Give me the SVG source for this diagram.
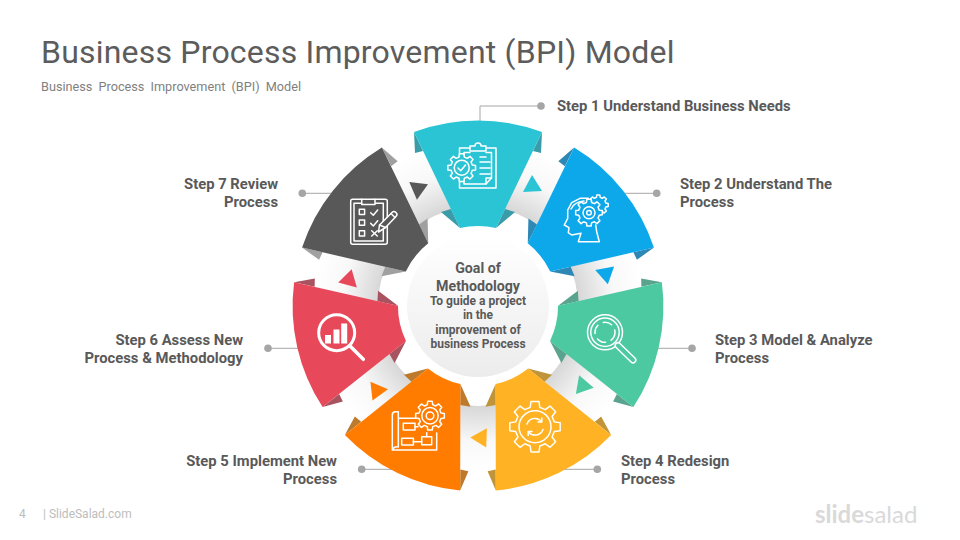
<svg xmlns="http://www.w3.org/2000/svg" width="960" height="540" viewBox="0 0 960 540">
<style>
text{font-family:Roboto,"Liberation Sans",sans-serif;fill:#595959}
.lab{font-size:14.8px;font-weight:700}
.r{text-anchor:end}
.c{text-anchor:middle}
.lead{fill:none;stroke:#a6a6a6;stroke-width:1}
.dot{fill:#a6a6a6}
.ic{fill:none;stroke:#fff;stroke-width:1.5;stroke-linejoin:round;stroke-linecap:round}
.wf{fill:#fff;stroke:none}
</style>
<defs>
<radialGradient id="bandGrad" gradientUnits="userSpaceOnUse" cx="0" cy="0" r="165">
<stop offset="0.6" stop-color="#d6d6d6"/><stop offset="0.82" stop-color="#f8f8f8"/><stop offset="1" stop-color="#fff"/>
</radialGradient>
<linearGradient id="hub" x1="0" y1="0" x2="0" y2="1"><stop offset="0" stop-color="#fff"/><stop offset="1" stop-color="#ececec"/></linearGradient>
<path id="band" fill="url(#bandGrad)" d="M34.3,-161.4A165,165 0 0 1 106,-126.4L64.3,-76.6A100,100 0 0 0 20.8,-97.8Z"/>
<path id="tri" d="M45,-114L64,-115L54,-131Z"/>
<path id="folds" d="M64,-174L63,-153L55,-155ZM-64,-174L-63,-153L-55,-155ZM18,-78L37,-94L27,-97ZM-18,-78L-37,-94L-27,-97Z"/>
<path id="front" d="M-64,-174A185,185 0 0 1 64,-174L18,-78A80,80 0 0 0 -18,-78Z"/>
<path id="gear" vector-effect="non-scaling-stroke" d="M-1.56,-9.88L1.56,-9.88L1.89,-7.57L4.02,-6.69L5.88,-8.09L8.09,-5.88L6.69,-4.02L7.57,-1.89L9.88,-1.56L9.88,1.56L7.57,1.89L6.69,4.02L8.09,5.88L5.88,8.09L4.02,6.69L1.89,7.57L1.56,9.88L-1.56,9.88L-1.89,7.57L-4.02,6.69L-5.88,8.09L-8.09,5.88L-6.69,4.02L-7.57,1.89L-9.88,1.56L-9.88,-1.56L-7.57,-1.89L-6.69,-4.02L-8.09,-5.88L-5.88,-8.09L-4.02,-6.69L-1.89,-7.57Z"/>
</defs>
<rect width="960" height="540" fill="#fff"/>
<text x="41" y="63" font-size="32" letter-spacing="0.2" style="fill:#5c5c5c">Business Process Improvement (BPI) Model</text>
<text x="41" y="91" font-size="12.7" style="fill:#7f7f7f" word-spacing="3">Business Process Improvement (BPI) Model</text>
<text x="19" y="518" font-size="12" style="fill:#bdbdbd">4</text>
<text x="43" y="518" font-size="12" style="fill:#bdbdbd">| SlideSalad.com</text>
<text x="815" y="523" font-size="24" style="fill:#d9d9d9;font-family:Lato,sans-serif"><tspan font-weight="700">slide</tspan>salad</text>

<g id="connectors">
<g transform="translate(478 306)">
<g><use href="#band"/><use href="#tri" fill="#2bc4d4"/></g>
<g transform="rotate(51.4286)"><use href="#band"/><use href="#tri" fill="#0da8ea"/></g>
<g transform="rotate(102.857)"><use href="#band"/><use href="#tri" fill="#4cc9a0"/></g>
<g transform="rotate(154.286)"><use href="#band"/><use href="#tri" fill="#ffb223"/></g>
<g transform="rotate(205.714)"><use href="#band"/><use href="#tri" fill="#ff7c00"/></g>
<g transform="rotate(257.143)"><use href="#band"/><use href="#tri" fill="#e8495a"/></g>
<g transform="rotate(308.571)"><use href="#band"/><use href="#tri" fill="#585858"/></g>
</g>
<path class="lead" d="M541,106H480V123"/><circle class="dot" cx="541" cy="106" r="3.8"/>
<path class="lead" d="M656.7,193.3H622"/><circle class="dot" cx="656.7" cy="193.3" r="3.8"/>
<path class="lead" d="M692,348.3H655"/><circle class="dot" cx="692" cy="348.3" r="3.8"/>
<path class="lead" d="M597.3,469.3H560"/><circle class="dot" cx="597.3" cy="469.3" r="3.8"/>
<path class="lead" d="M361.7,469.3H395"/><circle class="dot" cx="361.7" cy="469.3" r="3.8"/>
<path class="lead" d="M268,348.3H302"/><circle class="dot" cx="268" cy="348.3" r="3.8"/>
<path class="lead" d="M302.3,193.3H336"/><circle class="dot" cx="302.3" cy="193.3" r="3.8"/>
</g>

<g id="hub-node">
<circle cx="478" cy="306" r="71" fill="url(#hub)"/>
<text class="c" x="478" y="272.700" font-size="14.200" font-weight="700">Goal of</text>
<text class="c" x="478" y="290.500" font-size="14.200" font-weight="700">Methodology</text>
<text class="c" x="478" y="304.500" font-size="12" font-weight="700">To guide a project</text>
<text class="c" x="478" y="318.500" font-size="12" font-weight="700">in the</text>
<text class="c" x="478" y="334" font-size="12" font-weight="700">improvement of</text>
<text class="c" x="478" y="347.500" font-size="12" font-weight="700">business Process</text>
</g>

<g id="step1">
<g transform="translate(478 306)"><use href="#folds" fill="#3a9ca8"/><use href="#front" fill="#2bc4d4"/></g>
<g class="ic">
<path d="M470,148H459.500V188H496V148H486"/>
<path d="M470,152.500H464V184H486L491.500,178V152.500H486"/>
<path d="M486,178H491.500M486,178V184"/>
<path d="M470,151V146H475A3,3 0 0 1 481,146H486V151Z"/>
<path d="M480,157H486M480,162H490M480,168H490M480,174H490"/>
<use href="#gear" transform="translate(461.700 167.700) scale(1.4)" fill="#2bc4d4"/>
<circle cx="461.700" cy="167.700" r="7.500"/>
<path d="M458,168L460.800,170.800L465.500,165"/>
</g>
<text class="lab" x="557" y="111">Step 1 Understand Business Needs</text>
</g>

<g id="step2">
<g transform="translate(478 306) rotate(51.4286)"><use href="#folds" fill="#2e88b5"/><use href="#front" fill="#0da8ea"/></g>
<g class="ic">
<path d="M599.300,241.700L596.700,231.700L595.700,225M578.300,241.700H599.300M578.300,241.700L581,233.300L571.700,235L568.300,232.700L569,227.700L564.300,225L567.700,218.300V210L571.700,202.700L580,198.300H588.300"/>
<path d="M571,209Q574,202 584,201"/>
<use href="#gear" transform="translate(598.300 205) scale(1)"/>
<use href="#gear" transform="translate(589 212.700) scale(1.350)" fill="#0da8ea"/>
<circle cx="589" cy="212.700" r="6"/><circle cx="589" cy="212.700" r="2.300"/>
</g>
<text class="lab" x="680" y="189">Step 2 Understand The</text>
<text class="lab" x="680" y="207">Process</text>
</g>

<g id="step3">
<g transform="translate(478 306) rotate(102.857)"><use href="#folds" fill="#5aa38f"/><use href="#front" fill="#4cc9a0"/></g>
<g class="ic">
<circle cx="605" cy="332.300" r="17.500"/><circle cx="605" cy="332.300" r="14.200"/>
<circle cx="605" cy="332.300" r="10" stroke-dasharray="9 6"/>
<path d="M618,345.500L633,360" stroke-width="7"/>
<path d="M618,345.500L633,360" stroke="#4cc9a0" stroke-width="4"/>
</g>
<text class="lab" x="715" y="345">Step 3 Model &amp; Analyze</text>
<text class="lab" x="715" y="363">Process</text>
</g>

<g id="step4">
<g transform="translate(478 306) rotate(154.286)"><use href="#folds" fill="#c0953a"/><use href="#front" fill="#ffb223"/></g>
<g class="ic">
<use href="#gear" transform="translate(535 426.700) scale(2.550)"/>
<circle cx="535" cy="426.700" r="16"/>
<path d="M527,424A8.500,8.500 0 0 1 541.500,421.500M543,429.500A8.500,8.500 0 0 1 528.500,432"/>
<path d="M541.800,418V422H538M528.200,435.500V431.500H532"/>
</g>
<text class="lab" x="621" y="466">Step 4 Redesign</text>
<text class="lab" x="621" y="484">Process</text>
</g>

<g id="step5">
<g transform="translate(478 306) rotate(205.714)"><use href="#folds" fill="#bd7a2c"/><use href="#front" fill="#ff7c00"/></g>
<g class="ic">
<path d="M392.300,450V415Q392.300,411.700 395.300,411.700H398.300V447Q394,446 392.300,450ZM398.300,418.300H419M392.300,450H436.700V433"/>
<rect x="403.300" y="423.300" width="11.700" height="6.700"/><path d="M415,426.700H418"/>
<rect x="401.700" y="438.300" width="11.700" height="6.700"/><rect x="421.700" y="436.700" width="10" height="8"/>
<path d="M413.400,441.700H421.700M426.700,436.700V432.700"/>
<use href="#gear" transform="translate(430 415.700) scale(1.450)" fill="#ff7c00"/>
<circle cx="430" cy="415.700" r="8.200"/><circle cx="430" cy="415.700" r="3.800"/>
</g>
<text class="lab r" x="337" y="466">Step 5 Implement New</text>
<text class="lab r" x="337" y="484">Process</text>
</g>

<g id="step6">
<g transform="translate(478 306) rotate(257.143)"><use href="#folds" fill="#a85460"/><use href="#front" fill="#e8495a"/></g>
<g class="ic">
<circle cx="336.700" cy="332.700" r="18" stroke-width="3"/>
<path d="M350,346L363.300,359.300" stroke-width="3.500"/>
<rect class="wf" x="325" y="335" width="6" height="8.500"/>
<rect class="wf" x="333.500" y="329.500" width="6" height="14"/>
<rect class="wf" x="341.200" y="323.500" width="6" height="20"/>
</g>
<text class="lab r" x="243" y="345">Step 6 Assess New</text>
<text class="lab r" x="243" y="363">Process &amp; Methodology</text>
</g>

<g id="step7">
<g transform="translate(478 306) rotate(308.571)"><use href="#folds" fill="#a0a0a0"/><use href="#front" fill="#585858"/></g>
<g class="ic">
<rect x="350.700" y="199.300" width="36.600" height="45" rx="2"/>
<path d="M361.700,203.300H354V241H383.300V203.300H375.500"/>
<path d="M361.700,199.300V204.500H375V199.300"/>
<rect x="359.300" y="209.300" width="5.300" height="5.300"/><rect x="359.300" y="220" width="5.300" height="5.300"/><rect x="359.300" y="230.700" width="5.300" height="5.300"/>
<path d="M370.700,212.700L373.300,215.300L377.700,210M370.700,223.400L373.300,226L377.700,220.700M371.700,230.700L377.300,236M377.300,230.700L371.700,236"/>
<path fill="#585858" d="M378.500,232L379.500,225L392,212.500Q394,210.500 396,212.500Q398,214.500 396,216.500L385.500,227.500Z"/>
<path d="M391,213.500L395,217.500M379.500,225L385.500,227.500"/>
</g>
<text class="lab r" x="278" y="189">Step 7 Review</text>
<text class="lab r" x="278" y="207">Process</text>
</g>
</svg>
